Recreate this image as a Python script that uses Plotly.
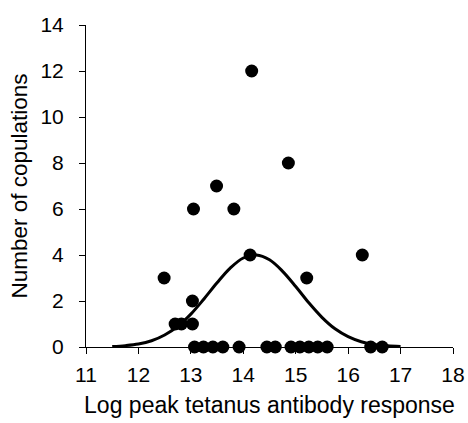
import plotly.graph_objects as go

# Observed points: log peak tetanus antibody response vs number of copulations
obs_x = [14.16, 14.86, 13.49, 13.05, 13.82, 14.13, 16.27, 12.49, 15.21, 13.03,
         12.70, 12.82, 13.03,
         13.07, 13.24, 13.42, 13.61, 13.92,
         14.45, 14.61, 14.91, 15.08, 15.25, 15.42, 15.60,
         16.43, 16.65]
obs_y = [12, 8, 7, 6, 6, 4, 4, 3, 3, 2,
         1, 1, 1,
         0, 0, 0, 0, 0,
         0, 0, 0, 0, 0, 0, 0,
         0, 0]

# Fitted curve
curve_x = [11.5, 11.75, 12.0, 12.25, 12.5, 12.75, 13.0, 13.25, 13.5, 13.75, 14.0,
           14.25, 14.5, 14.75, 15.0, 15.25, 15.5, 15.75, 16.0, 16.25, 16.5, 16.75, 17.0]
curve_y = [0.02, 0.06, 0.13, 0.27, 0.52, 0.90, 1.43, 2.09, 2.79, 3.43, 3.87,
           4.0, 3.79, 3.29, 2.63, 1.92, 1.29, 0.79, 0.45, 0.23, 0.11, 0.05, 0.02]

x_ticks = [11, 12, 13, 14, 15, 16, 17, 18]
y_ticks = [0, 2, 4, 6, 8, 10, 12, 14]

FONT = "Liberation Sans, Arial, sans-serif"

fig = go.Figure()
fig.add_trace(go.Scatter(x=curve_x, y=curve_y, mode="lines",
                         line=dict(color="black", width=3, shape="spline"),
                         cliponaxis=False, hoverinfo="skip"))
fig.add_trace(go.Scatter(x=obs_x, y=obs_y, mode="markers",
                         marker=dict(color="black", size=13, line=dict(width=0)),
                         cliponaxis=False))

fig.update_layout(
    width=468, height=423,
    margin=dict(l=86, r=15, t=25, b=76),
    paper_bgcolor="white", plot_bgcolor="white",
    showlegend=False,
    font=dict(family=FONT, size=21, color="black"),
    xaxis=dict(range=[11, 18], tickvals=x_ticks, ticktext=[str(v) for v in x_ticks],
               showgrid=False, zeroline=False, showline=True, linecolor="black", linewidth=1,
               ticks="outside", ticklen=6, tickcolor="black", tickwidth=1,
               ticklabelstandoff=3, automargin=False, tickfont=dict(size=21),
               title=dict(text="Log peak tetanus antibody response", font=dict(size=23), standoff=11)),
    yaxis=dict(range=[0, 14], tickvals=y_ticks, ticktext=[str(v) for v in y_ticks],
               showgrid=False, zeroline=False, showline=True, linecolor="black", linewidth=1,
               ticks="outside", ticklen=6, tickcolor="black", tickwidth=1,
               ticklabelstandoff=11, automargin=False, tickfont=dict(size=21),
               title=dict(text="Number of copulations", font=dict(size=22.5), standoff=6)),
)

# remove the default 8px page margin so the figure fills the window exactly
fig.write_html("out.html",
               config={"displayModeBar": False},
               post_script="document.body.style.margin='0';document.body.style.overflow='hidden';")
